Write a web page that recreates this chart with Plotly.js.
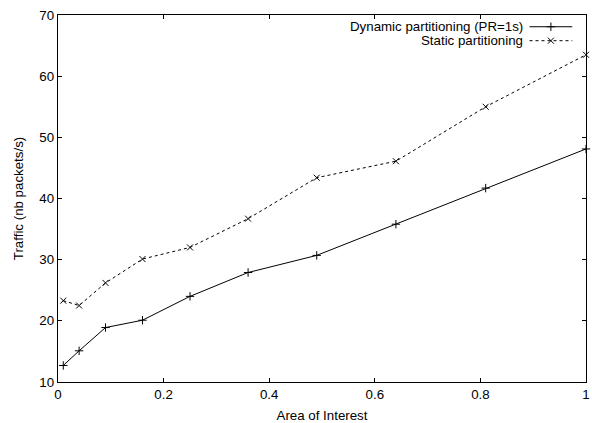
<!DOCTYPE html>
<html>
<head>
<meta charset="utf-8">
<script src="https://cdn.plot.ly/plotly-3.0.1.min.js"></script>
<style>
  html, body { margin: 0; padding: 0; background: #fff; }
  #chart { width: 592px; height: 423px; }
</style>
</head>
<body>
<div id="chart"></div>
<script>
// Area of interest (fraction of the map) on the x axis
const areaOfInterest = [0.01, 0.04, 0.09, 0.16, 0.25, 0.36, 0.49, 0.64, 0.81, 1.0];
// Traffic in packets per second
const dynamicTraffic = [12.7, 15.1, 18.9, 20.1, 24.0, 27.9, 30.7, 35.8, 41.7, 48.1];
const staticTraffic  = [23.3, 22.5, 26.2, 30.1, 32.0, 36.7, 43.4, 46.1, 55.0, 63.5];

const seriesNames = ['Dynamic partitioning (PR=1s)', 'Static partitioning'];
const xTicks = [0, 0.2, 0.4, 0.6, 0.8, 1];
const xTickText = ['0', '0.2', '0.4', '0.6', '0.8', '1'];
const yTicks = [10, 20, 30, 40, 50, 60, 70];

const FONT = 'Liberation Sans, Arial, Helvetica, sans-serif';
const FS = 13.3;

const dynStyle = {
  mode: 'lines+markers',
  line: { color: '#000', width: 1 },
  marker: { symbol: 'cross-thin', size: 6, color: '#000', line: { color: '#000', width: 1 } }
};
const statStyle = {
  mode: 'lines+markers',
  line: { color: '#000', width: 1, dash: '3px,3px' },
  marker: { symbol: 'x-thin', size: 6, color: '#000', line: { color: '#000', width: 1 } }
};

const traces = [
  Object.assign({ x: areaOfInterest, y: dynamicTraffic, name: seriesNames[0], cliponaxis: false }, dynStyle),
  Object.assign({ x: areaOfInterest, y: staticTraffic, name: seriesNames[1], cliponaxis: false }, statStyle),
  // key samples (text on the left, line sample on the right), on a unit overlay axis
  Object.assign({ x: [0.893, 0.974], y: [0.968, 0.968], xaxis: 'x2', yaxis: 'y2', hoverinfo: 'skip' }, dynStyle,
    { mode: 'lines' }),
  Object.assign({ x: [0.9335], y: [0.968], xaxis: 'x2', yaxis: 'y2', hoverinfo: 'skip' }, dynStyle, { mode: 'markers' }),
  Object.assign({ x: [0.893, 0.974], y: [0.93, 0.93], xaxis: 'x2', yaxis: 'y2', hoverinfo: 'skip' }, statStyle,
    { mode: 'lines' }),
  Object.assign({ x: [0.9335], y: [0.93], xaxis: 'x2', yaxis: 'y2', hoverinfo: 'skip' }, statStyle, { mode: 'markers' })
];

const axisCommon = {
  showgrid: false,
  zeroline: false,
  showline: true,
  linecolor: '#000',
  linewidth: 1.2,
  mirror: 'ticks',
  ticks: 'inside',
  ticklen: 4,
  tickcolor: '#000',
  tickwidth: 1,
  tickfont: { family: FONT, size: FS, color: '#000' }
};

const layout = {
  width: 592,
  height: 423,
  margin: { l: 58, r: 6, t: 15, b: 41 },
  paper_bgcolor: '#fff',
  plot_bgcolor: '#fff',
  showlegend: false,
  font: { family: FONT, size: FS, color: '#000' },
  xaxis: Object.assign({}, axisCommon, {
    range: [0, 1],
    tickvals: xTicks,
    ticktext: xTickText,
    title: { text: 'Area of Interest', font: { family: FONT, size: FS, color: '#000' }, standoff: 10 }
  }),
  yaxis: Object.assign({}, axisCommon, {
    range: [10, 70],
    tickvals: yTicks,
    title: { text: 'Traffic (nb packets/s)', font: { family: FONT, size: FS, color: '#000' }, standoff: 12 }
  }),
  xaxis2: { overlaying: 'x', range: [0, 1], visible: false, fixedrange: true },
  yaxis2: { overlaying: 'y', range: [0, 1], visible: false, fixedrange: true },
  annotations: [
    { xref: 'x2', yref: 'y2', x: 0.884, y: 0.968, xanchor: 'right', yanchor: 'middle', showarrow: false,
      text: seriesNames[0], font: { family: FONT, size: FS, color: '#000' } },
    { xref: 'x2', yref: 'y2', x: 0.884, y: 0.93, xanchor: 'right', yanchor: 'middle', showarrow: false,
      text: seriesNames[1], font: { family: FONT, size: FS, color: '#000' } }
  ]
};

Plotly.newPlot('chart', traces, layout, { staticPlot: true, displayModeBar: false });
</script>
</body>
</html>
